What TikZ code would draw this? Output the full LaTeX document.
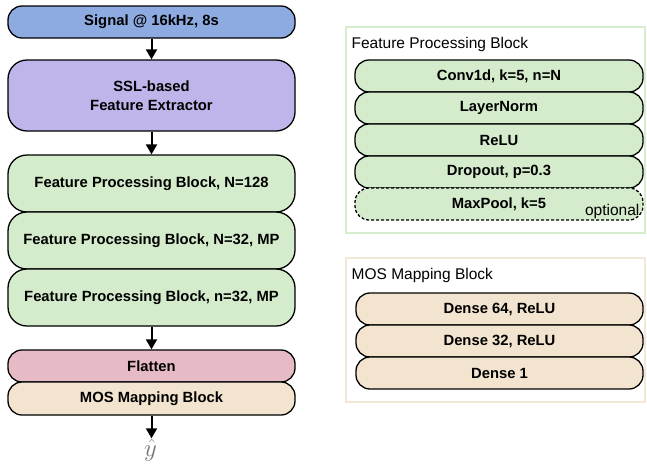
\documentclass[tikz,border=0pt]{standalone}
\usepackage{fontspec}
\setmainfont{Liberation Sans}
\usepackage{xcolor}
\usetikzlibrary{arrows.meta}

\definecolor{sigblue}{HTML}{8DAAE1}
\definecolor{sslpurple}{HTML}{C0B5EA}
\definecolor{fpgreen}{HTML}{D4ECCB}
\definecolor{flatpink}{HTML}{E7BBC5}
\definecolor{mosbeige}{HTML}{F2E4CF}
\definecolor{fpframe}{HTML}{D6EECE}
\definecolor{mosframe}{HTML}{F3E8D6}

\begin{document}
\begin{tikzpicture}[x=1pt,y=-1pt,line width=1.3pt,
	>={Triangle[width=11pt,length=10pt]},
	layer/.style={rectangle,draw,rounded corners=14pt,minimum height=32pt,inner sep=0pt,
		font=\fontsize{14.8}{19}\selectfont\bfseries,align=center},
	bigbox/.style={layer,rounded corners=19pt},
	frame/.style={draw,line width=2pt},
	title/.style={anchor=base west,inner sep=0pt,font=\fontsize{15.5}{18}\selectfont}]
	\useasboundingbox (0,0) rectangle (647,464);

	% Main column
	\begin{scope}[minimum width=287pt]
	\node (sig) [layer,fill=sigblue] at (151.5,22) {Signal @ 16kHz, 8s};
	\node (ssl) [bigbox,fill=sslpurple,minimum height=71pt] at (151.5,95.5) {SSL-based\\Feature Extractor};
	\node (fpa) [bigbox,fill=fpgreen,minimum height=57pt] at (151.5,183.5) {Feature Processing Block, N=128};
	\node (fpb) [bigbox,fill=fpgreen,minimum height=57pt] at (151.5,240.5) {Feature Processing Block, N=32, MP};
	\node (fpc) [bigbox,fill=fpgreen,minimum height=57pt] at (151.5,297.5) {Feature Processing Block, n=32, MP};
	\node (flat) [layer,fill=flatpink] at (151.5,366) {Flatten};
	\node (mos) [layer,fill=mosbeige,minimum height=33pt] at (151.5,398.5) {MOS Mapping Block};
	\node (yhat) [inner sep=0pt,text=black!55,font=\fontsize{26}{28}\selectfont] at (150.5,450) {$\hat{y}$};
	\end{scope}
	\begin{scope}[line width=2pt]
	\draw[->] (sig) -- (ssl);
	\draw[->] (ssl) -- (fpa);
	\draw[->] (fpc) -- (flat);
	\draw[->] (mos.south) -- (mos.south |- yhat.north);
	\end{scope}

	% Feature Processing Block
	\draw[frame,fpframe] (346,27) rectangle (645,233);
	\node (fptitle) [title] at (351,48) {Feature Processing Block};
	\begin{scope}[minimum width=288pt]
	\node (conv) [layer,fill=fpgreen] at (499,76) {Conv1d, k=5, n=N};
	\node (norm) [layer,fill=fpgreen] at (499,108) {LayerNorm};
	\node (relu) [layer,fill=fpgreen] at (499,140) {ReLU};
	\node (drop) [layer,fill=fpgreen] at (499,172) {Dropout, p=0.3};
	\node (pool) [layer,fill=fpgreen,dash pattern=on 3pt off 2pt] at (499,204) {MaxPool, k=5};
	\end{scope}
	\node (opt) [anchor=base east,inner sep=0pt,font=\fontsize{15.5}{18}\selectfont] at (640,215) {optional};

	% MOS Mapping Block
	\draw[frame,mosframe] (346,258) rectangle (645,402);
	\node (mostitle) [title] at (351,279) {MOS Mapping Block};
	\begin{scope}[minimum width=287pt]
	\node (dsa) [layer,fill=mosbeige] at (499.5,309) {Dense 64, ReLU};
	\node (dsb) [layer,fill=mosbeige] at (499.5,341) {Dense 32, ReLU};
	\node (dsc) [layer,fill=mosbeige] at (499.5,373) {Dense 1};
	\end{scope}
\end{tikzpicture}
\end{document}
